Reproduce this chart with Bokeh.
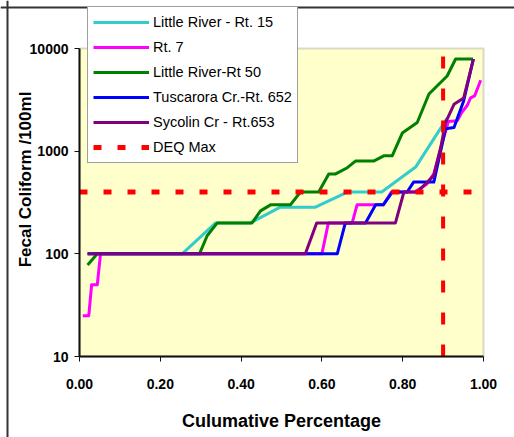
from math import pi, log10
from bokeh.plotting import figure
from bokeh.models import (FixedTicker, Legend, LegendItem, Label, Range1d,
                          BoxAnnotation, Span)
from bokeh.embed import file_html
from bokeh.resources import INLINE

# ---- data ----
lr15_pct = [0.02, 0.254, 0.337, 0.423, 0.497, 0.584, 0.663, 0.748, 0.832, 0.91]
lr15_fc = [100, 100, 200, 200, 285, 285, 400, 400, 700, 2100]

rt7_pct = [0.008, 0.023, 0.03, 0.044, 0.052, 0.60, 0.616, 0.675, 0.687, 0.752, 0.772,
           0.83, 0.86, 0.877, 0.895, 0.913, 0.935, 0.947, 0.96, 0.968, 0.978, 0.993]
rt7_fc = [25, 25, 50, 50, 100, 100, 200, 200, 300, 300, 400,
          400, 480, 600, 1100, 1950, 1980, 2400, 2800, 3300, 3450, 4900]

lr50_pct = [0.02, 0.044, 0.297, 0.316, 0.341, 0.427, 0.448, 0.473, 0.522, 0.547, 0.592,
            0.617, 0.634, 0.663, 0.683, 0.728, 0.753, 0.774, 0.799, 0.836, 0.865,
            0.91, 0.931, 0.974]
lr50_fc = [78, 100, 100, 150, 200, 200, 262, 300, 300, 400, 400,
           600, 600, 690, 800, 800, 900, 900, 1500, 1900, 3600,
           5400, 7900, 7900]

tus652_pct = [0.02, 0.638, 0.658, 0.708, 0.733, 0.752, 0.774, 0.811, 0.827, 0.877,
              0.906, 0.927, 0.951, 0.975]
tus652_fc = [100, 100, 200, 200, 300, 300, 400, 400, 500, 500,
             1650, 1700, 3100, 7900]

syc653_pct = [0.02, 0.559, 0.587, 0.782, 0.803, 0.836, 0.861, 0.877, 0.894, 0.906,
              0.927, 0.951, 0.975]
syc653_fc = [100, 100, 200, 200, 400, 400, 500, 580, 1080, 1900,
             2860, 3300, 7900]

deq_max = 400
deq_pct = 0.9

series_names = ["Little River - Rt. 15", "Rt. 7", "Little River-Rt 50",
                "Tuscarora Cr.-Rt. 652", "Sycolin Cr - Rt.653", "DEQ Max"]
series_colors = ["#33CCCC", "#FF00FF", "#008000", "#0000FF", "#800080", "#FF0000"]

x_ticks = [0.0, 0.2, 0.4, 0.6, 0.8, 1.0]
x_tick_labels = ["0.00", "0.20", "0.40", "0.60", "0.80", "1.00"]
y_ticks = [10, 100, 1000, 10000]
y_tick_labels = ["10", "100", "1000", "10000"]
x_lo, x_hi = 0.0, 1.0
y_lo, y_hi = 10, 10000

x_title = "Culumative Percentage"
y_title = "Fecal Coliform /100ml"

# ---- layout geometry (pixels) ----
W, H = 514, 437
PL, PR, PT, PB = 79, 483, 48, 356          # plot area edges
FONT = "Liberation Sans"

px_per_x = (PR - PL) / (x_hi - x_lo)
px_per_dec = (PB - PT) / (log10(y_hi) - log10(y_lo))
xr = Range1d(x_lo - PL / px_per_x, x_hi + (W - PR) / px_per_x)
yr = Range1d(10 ** (log10(y_lo) - (H - PB) / px_per_dec),
             10 ** (log10(y_hi) + PT / px_per_dec))

p = figure(width=W, height=H, y_axis_type="log", x_range=xr, y_range=yr,
           output_backend="svg", toolbar_location=None,
           min_border_left=0, min_border_right=0,
           min_border_top=0, min_border_bottom=0)
p.background_fill_color = "white"
p.border_fill_color = "white"
p.outline_line_color = None
p.xgrid.visible = False
p.ygrid.visible = False

# plot area
p.add_layout(BoxAnnotation(left=x_lo, right=x_hi, bottom=y_lo, top=y_hi,
                           fill_color="#FFFFCC", fill_alpha=1.0,
                           line_color="#808080", line_width=2, level="underlay"))

for ax in (p.xaxis, p.yaxis):
    ax.axis_line_color = "#111111"
    ax.axis_line_width = 2
    ax.major_tick_line_color = "#111111"
    ax.major_tick_out = 5
    ax.major_tick_in = 0
    ax.minor_tick_line_color = None
    ax.major_label_text_font = FONT
    ax.major_label_text_font_style = "bold"
    ax.major_label_text_font_size = "14px"
    ax.major_label_text_color = "black"

p.xaxis.fixed_location = y_lo
p.xaxis.bounds = (x_lo, x_hi)
p.yaxis.fixed_location = x_lo
p.yaxis.bounds = (y_lo, y_hi)
p.xaxis.ticker = FixedTicker(ticks=x_ticks)
p.xaxis.major_label_overrides = dict(zip(x_ticks, x_tick_labels))
p.yaxis.ticker = FixedTicker(ticks=y_ticks)
p.yaxis.major_label_overrides = dict(zip(y_ticks, y_tick_labels))
p.xaxis.major_label_standoff = 17
p.yaxis.major_label_standoff = 6

data = [(lr15_pct, lr15_fc), (rt7_pct, rt7_fc), (lr50_pct, lr50_fc),
        (tus652_pct, tus652_fc), (syc653_pct, syc653_fc)]
renderers = []
for (xs, ys), c in zip(data, series_colors[:5]):
    r = p.line(xs, ys, line_color=c, line_width=3, line_join="round")
    renderers.append(r)

h = p.line([x_lo, x_hi], [deq_max, deq_max], line_color=series_colors[5], line_width=5,
           line_dash="8 16")
v = p.line([deq_pct, deq_pct], [y_lo, y_hi], line_color=series_colors[5], line_width=4,
           line_dash="12 20")
renderers.append(h)

items = [LegendItem(label=n, renderers=[r]) for n, r in zip(series_names, renderers)]
legend = Legend(items=items, location=(87, H - 163))
legend.label_text_font = FONT
legend.label_text_font_size = "14.5px"
legend.label_text_color = "black"
legend.glyph_width = 56
legend.glyph_height = 20
legend.label_height = 20
legend.label_standoff = 4
legend.spacing = 5
legend.padding = 5
legend.margin = 0
legend.border_line_color = "#404040"
legend.border_line_width = 1.5
legend.background_fill_color = "white"
legend.background_fill_alpha = 1.0
p.add_layout(legend)

p.add_layout(Label(x=25, y=H - 179, x_units="screen", y_units="screen",
                   text=y_title, angle=pi / 2,
                   text_align="center", text_baseline="middle",
                   text_font=FONT, text_font_style="bold", text_font_size="17px",
                   text_color="black"))
p.add_layout(Label(x=(PL + PR) / 2, y=H - 420, x_units="screen", y_units="screen",
                   text=x_title, text_align="center", text_baseline="middle",
                   text_font=FONT, text_font_style="bold", text_font_size="18px",
                   text_color="black"))

# outer chart border (top and left edges)
p.add_layout(Span(location=x_lo + (7 - PL) / px_per_x, dimension="height",
                  line_color="#333333", line_width=2))
p.add_layout(Span(location=10 ** (log10(y_hi) + (PT - 7) / px_per_dec), dimension="width",
                  line_color="#333333", line_width=2))

open("out.html", "w").write(file_html(p, INLINE))
